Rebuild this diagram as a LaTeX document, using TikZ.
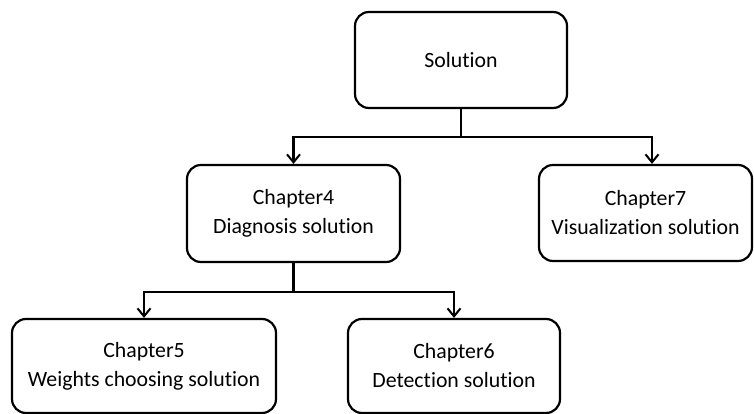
\documentclass[tikz,border=0pt]{standalone}
\usepackage{fontspec}
\setmainfont[Ligatures={NoCommon}]{Carlito}
\usetikzlibrary{arrows.meta,calc}
\begin{document}
\begin{tikzpicture}[x=1pt,y=-1pt,
  box/.style={draw=black, line width=2.2pt, rounded corners=14pt, align=center,
    inner sep=0pt, font=\fontsize{21.8}{29}\selectfont},
  conn/.style={draw=black, line width=2.2pt},
  arr/.style={conn, -{Straight Barb[length=8pt,width=13pt,line width=2pt]}}]
\useasboundingbox (0,0) rectangle (754,414);
\node[box, minimum width=212pt, minimum height=96pt] (sol) at (461,60) {Solution};
\node[box, minimum width=213pt, minimum height=97pt] (c4) at (293.5,213.5) {Chapter4\\Diagnosis solution};
\node[box, minimum width=213pt, minimum height=96pt] (c7) at (645.5,213) {Chapter7\\Visualization solution};
\node[box, minimum width=264pt, minimum height=94pt] (c5) at (144,366) {Chapter5\\Weights choosing solution};
\node[box, minimum width=212pt, minimum height=94pt] (c6) at (454,366) {Chapter6\\Detection solution};
\coordinate (j1) at ($(sol.south)+(0,28)$);
\coordinate (j2) at ($(c4.south)+(0,29)$);
\draw[conn] (sol.south) -- (j1);
\draw[arr] (j1) -| (c4.north);
\draw[arr] (j1) -| ([xshift=6.5pt]c7.north);
\draw[conn] (c4.south) -- (j2);
\draw[arr] (j2) -| (c5.north);
\draw[arr] (j2) -| (c6.north);
\end{tikzpicture}
\end{document}
